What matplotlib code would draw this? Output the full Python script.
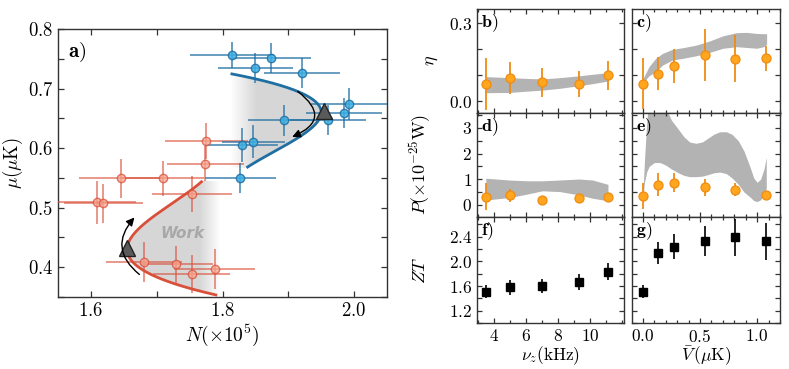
import numpy as np
import matplotlib.pyplot as plt
from matplotlib.patches import Polygon, FancyArrowPatch
from matplotlib.ticker import MultipleLocator, FixedLocator

plt.rcParams.update({
    'font.family': 'serif',
    'font.serif': ['cmr10'],
    'mathtext.fontset': 'cm',
    'axes.formatter.use_mathtext': True,
    'axes.unicode_minus': False,
    'axes.edgecolor': '#333333',
    'axes.linewidth': 1.0,
})

# ---- panel a: cycle data, N in units of 1e5, mu in uK ----
blue_N = [1.814, 1.850, 1.874, 1.921, 1.993, 1.985, 1.960, 1.893, 1.847, 1.829, 1.827]
blue_mu = [0.757, 0.735, 0.751, 0.726, 0.674, 0.659, 0.647, 0.647, 0.611, 0.605, 0.550]
blue_Nerr = [0.064, 0.057, 0.060, 0.058, 0.058, 0.058, 0.058, 0.055, 0.048, 0.056, 0.054]
blue_muerr = [0.022, 0.025, 0.025, 0.025, 0.027, 0.025, 0.025, 0.026, 0.028, 0.028, 0.025]

red_N = [1.775, 1.774, 1.645, 1.709, 1.754, 1.609, 1.619, 1.681, 1.730, 1.753, 1.788]
red_mu = [0.612, 0.574, 0.549, 0.549, 0.523, 0.509, 0.507, 0.409, 0.405, 0.388, 0.397]
red_Nerr = [0.063, 0.058, 0.063, 0.063, 0.061, 0.060, 0.060, 0.058, 0.056, 0.059, 0.061]
red_muerr = [0.030, 0.029, 0.033, 0.030, 0.030, 0.036, 0.033, 0.033, 0.031, 0.032, 0.033]

# model curves N(mu) = N0 + a*d^2 + b*d^3, d = mu - mu0
red_vertex = (1.655, 0.43)
red_coef = (17.3, -75.1)
red_mu_range = (0.353, 0.545)
blue_vertex = (1.95, 0.66)
blue_coef = (-24.6, -123.3)
blue_mu_range = (0.567, 0.725)
triangles_N = [1.655, 1.955]
triangles_mu = [0.432, 0.663]

# ---- panels b-g ----
nu = [3.5, 5.0, 7.0, 9.3, 11.1]
V = [0.0, 0.135, 0.27, 0.54, 0.81, 1.08]

eta_nu = [0.065, 0.090, 0.073, 0.065, 0.099]
eta_nu_err = [0.10, 0.061, 0.056, 0.05, 0.055]
eta_V = [0.067, 0.105, 0.135, 0.177, 0.163, 0.164]
eta_V_err = [0.098, 0.063, 0.066, 0.10, 0.09, 0.048]

P_nu = [0.32, 0.38, 0.19, 0.26, 0.30]
P_nu_err = [0.52, 0.25, 0.0, 0.17, 0.08]
P_V = [0.35, 0.79, 0.87, 0.69, 0.60, 0.38]
P_V_err = [0.52, 0.45, 0.36, 0.33, 0.25, 0.05]

ZT_nu = [1.51, 1.58, 1.60, 1.67, 1.83]
ZT_nu_err = [0.11, 0.12, 0.12, 0.13, 0.14]
ZT_V = [1.51, 2.14, 2.24, 2.33, 2.39, 2.33]
ZT_V_err = [0.11, 0.18, 0.20, 0.25, 0.30, 0.30]

# theory bands
bnu_x = [3.5, 4.97, 6.06, 7.03, 8.12, 9.31, 10.17, 11.12]
b_lo = [0.032, 0.033, 0.038, 0.042, 0.049, 0.059, 0.067, 0.077]
b_hi = [0.094, 0.090, 0.087, 0.085, 0.090, 0.097, 0.103, 0.109]
d_lo = [0.19, 0.29, 0.42, 0.55, 0.52, 0.39, 0.26, 0.16]
d_hi = [1.04, 0.97, 0.94, 0.94, 0.97, 1.01, 0.97, 0.80]

c_V = [0.0, 0.053, 0.112, 0.171, 0.26, 0.348, 0.466, 0.584, 0.702, 0.82, 0.909, 0.997, 1.056, 1.083]
c_hi = [0.085, 0.132, 0.164, 0.183, 0.199, 0.205, 0.215, 0.231, 0.251, 0.263, 0.264, 0.26, 0.259, 0.259]
c_lo = [0.068, 0.097, 0.113, 0.138, 0.158, 0.164, 0.174, 0.187, 0.203, 0.209, 0.206, 0.203, 0.209, 0.218]

e_V = [0.0, 0.015, 0.035, 0.055, 0.10, 0.15, 0.20, 0.25, 0.31, 0.36, 0.41, 0.465, 0.52,
       0.57, 0.62, 0.675, 0.73, 0.78, 0.835, 0.885, 0.94, 0.97, 1.0, 1.03, 1.06, 1.08]
e_hi = [0.45, 1.8, 3.3, 4.2, 4.6, 4.3, 3.8, 3.3, 2.95, 2.65, 2.45, 2.40, 2.45,
        2.60, 2.75, 2.85, 2.85, 2.75, 2.50, 2.10, 1.45, 1.05, 0.88, 1.0, 1.4, 1.85]
e_lo = [0.30, 0.9, 1.3, 1.5, 1.65, 1.65, 1.55, 1.40, 1.25, 1.15, 1.10, 1.10, 1.12,
        1.18, 1.25, 1.28, 1.22, 1.05, 0.80, 0.50, 0.30, 0.17, 0.13, 0.20, 0.40, 0.65]

BLUE_LINE = '#1f6fa3'
BLUE_FACE = '#3db0e2'
RED_LINE = '#d9503a'
RED_FACE = '#f6a58e'
ORANGE = '#ef8c12'
ORANGE_FACE = '#ffa51e'
BAND = '#b3b3b3'

fig = plt.figure(figsize=(7.89, 3.69), dpi=100)

# ================= panel a =================
ax = fig.add_axes([58 / 789, 1 - 297 / 369, 329 / 789, 268 / 369])
ax.set_xlim(1.55, 2.05)
ax.set_ylim(0.35, 0.8)


def curve(vertex, coef, mu_range):
    mu = np.linspace(mu_range[0], mu_range[1], 200)
    d = mu - vertex[1]
    return vertex[0] + coef[0] * d ** 2 + coef[1] * d ** 3, mu


rN, rmu = curve(red_vertex, red_coef, red_mu_range)
bN, bmu = curve(blue_vertex, blue_coef, blue_mu_range)

# gradient shaded "work" regions
gx = np.linspace(1.55, 2.05, 600)
for (cN, cmu, edge, ramp) in [(rN, rmu, 1.80, lambda x: np.clip((1.797 - x) / 0.032, 0, 1)),
                              (bN, bmu, 1.80, lambda x: np.clip((x - 1.812) / 0.04, 0, 1))]:
    verts = np.column_stack([np.r_[cN, edge, edge], np.r_[cmu, cmu[-1], cmu[0]]])
    poly = Polygon(verts, closed=True, facecolor='none', edgecolor='none')
    ax.add_patch(poly)
    img = np.zeros((2, gx.size, 4))
    img[..., :3] = 0.84
    img[..., 3] = ramp(gx)[None, :]
    im = ax.imshow(img, extent=[1.55, 2.05, 0.35, 0.8], origin='lower',
                   aspect='auto', zorder=1, interpolation='bilinear')
    im.set_clip_path(poly)

ax.plot(rN, rmu, color=RED_LINE, lw=2.0, zorder=2, solid_capstyle='butt')
ax.plot(bN, bmu, color=BLUE_LINE, lw=2.0, zorder=2, solid_capstyle='butt')

ax.errorbar(red_N, red_mu, xerr=red_Nerr, yerr=red_muerr, fmt='o', ms=6,
            mfc=RED_FACE, mec=RED_LINE, mew=1.0, ecolor=RED_LINE, elinewidth=1.1,
            capsize=0, alpha=0.75, zorder=3)
ax.errorbar(blue_N, blue_mu, xerr=blue_Nerr, yerr=blue_muerr, fmt='o', ms=6,
            mfc=BLUE_FACE, mec=BLUE_LINE, mew=1.0, ecolor=BLUE_LINE, elinewidth=1.1,
            capsize=0, alpha=0.85, zorder=3)

ax.plot(triangles_N, triangles_mu, '^', ms=11, mfc='#5a5a5a', mec='#222222',
        mew=1.0, ls='none', zorder=4)

ax.add_patch(FancyArrowPatch((1.677, 0.385), (1.669, 0.487),
                             connectionstyle='arc3,rad=-0.55', arrowstyle='-|>',
                             mutation_scale=12, lw=1.0, color='black', zorder=5))
ax.add_patch(FancyArrowPatch((1.911, 0.698), (1.902, 0.617),
                             connectionstyle='arc3,rad=-0.9', arrowstyle='-|>',
                             mutation_scale=12, lw=1.0, color='black', zorder=5))

ax.text(1.739, 0.457, 'Work', family='DejaVu Sans', fontsize=11, fontweight='bold',
        style='italic', color='#a8a8a8', ha='center', va='center', zorder=2)
ax.text(0.03, 0.955, r'$\mathbf{a)}$', transform=ax.transAxes, fontsize=15,
        ha='left', va='top')

ax.xaxis.set_major_locator(MultipleLocator(0.2))
ax.xaxis.set_minor_locator(MultipleLocator(0.1))
ax.yaxis.set_major_locator(MultipleLocator(0.1))
ax.yaxis.set_minor_locator(MultipleLocator(0.05))
ax.tick_params(which='both', direction='in', top=True, right=True, length=4,
               width=0.9, labelsize=13.5, color='#333333')
ax.set_xlabel(r'$N(\times10^5)$', fontsize=14, labelpad=2)
ax.set_ylabel(r'$\mu(\mu\mathrm{K})$', fontsize=13.5, labelpad=2)

# ================= panels b-g =================
col_left = [477 / 789, 632 / 789]
col_w = [147 / 789, 148 / 789]
row_px = [9, 113, 217, 323]
axes = []
for r in range(3):
    row = []
    for c in range(2):
        b = 1 - row_px[r + 1] / 369
        h = (row_px[r + 1] - row_px[r]) / 369
        row.append(fig.add_axes([col_left[c], b, col_w[c], h]))
    axes.append(row)


def orange_points(a, x, y, yerr):
    a.errorbar(x, y, yerr=yerr, fmt='o', ms=6.5, mfc=ORANGE_FACE, mec=ORANGE,
               mew=0.9, ecolor=ORANGE, elinewidth=1.3, capsize=0, zorder=3)


axb, axc = axes[0]
axd, axe = axes[1]
axf, axg = axes[2]

axb.fill_between(bnu_x, b_lo, b_hi, color=BAND, lw=0, zorder=1)
orange_points(axb, nu, eta_nu, eta_nu_err)
axc.fill_between(c_V, c_lo, c_hi, color=BAND, lw=0, zorder=1)
orange_points(axc, V, eta_V, eta_V_err)
axd.fill_between(bnu_x, d_lo, d_hi, color=BAND, lw=0, zorder=1)
orange_points(axd, nu, P_nu, P_nu_err)
axe.fill_between(e_V, e_lo, e_hi, color=BAND, lw=0, zorder=1)
orange_points(axe, V, P_V, P_V_err)
axf.errorbar(nu, ZT_nu, yerr=ZT_nu_err, fmt='s', ms=5.5, color='black',
             elinewidth=1.2, capsize=0)
axg.errorbar(V, ZT_V, yerr=ZT_V_err, fmt='s', ms=5.5, color='black',
             elinewidth=1.2, capsize=0)

ylims = [(-0.046, 0.354), (-0.47, 3.58), (1.0, 2.72)]
ymaj = [0.3, 1.0, 0.4]
ymin = [0.1, 0.5, 0.2]
labels = [['b)', 'c)'], ['d)', 'e)'], ['f)', 'g)']]
for r in range(3):
    for c in range(2):
        a = axes[r][c]
        a.set_ylim(*ylims[r])
        a.yaxis.set_major_locator(MultipleLocator(ymaj[r]))
        a.yaxis.set_minor_locator(MultipleLocator(ymin[r]))
        if c == 0:
            a.set_xlim(2.95, 12.12)
            a.xaxis.set_major_locator(FixedLocator([4, 6, 8, 10]))
            a.xaxis.set_minor_locator(FixedLocator([3, 5, 7, 9, 11, 12]))
        else:
            a.set_xlim(-0.095, 1.2)
            a.xaxis.set_major_locator(MultipleLocator(0.5))
            a.xaxis.set_minor_locator(MultipleLocator(0.1))
        a.tick_params(which='both', direction='in', top=True, right=True,
                      width=0.9, labelsize=12.5, color='#333333')
        a.tick_params(axis='y', which='both', length=3.5)
        a.tick_params(axis='x', which='major', length=3.5)
        a.tick_params(axis='x', which='minor', length=2)
        if c == 1:
            a.tick_params(labelleft=False)
        if r < 2:
            a.tick_params(labelbottom=False)
        a.text(0.03, 0.97, r'$\mathbf{' + labels[r][c] + '}$', transform=a.transAxes,
               fontsize=13, ha='left', va='top')

axb.set_ylabel(r'$\eta$', fontsize=13)
axd.set_ylabel(r'$P(\times10^{-25}\mathrm{W})$', fontsize=13)
axf.set_ylabel(r'$ZT$', fontsize=13)
axb.yaxis.set_label_coords(-0.25, 0.5)
axd.yaxis.set_label_coords(-0.3, 0.5)
axf.yaxis.set_label_coords(-0.33, 0.5)
axf.set_xlabel(r'$\nu_z(\mathrm{kHz})$', fontsize=12.5, labelpad=0)
axg.set_xlabel(r'$\bar{V}\,(\mu\mathrm{K})$', fontsize=12.5, labelpad=0)

fig.savefig('out.png', dpi=100)
